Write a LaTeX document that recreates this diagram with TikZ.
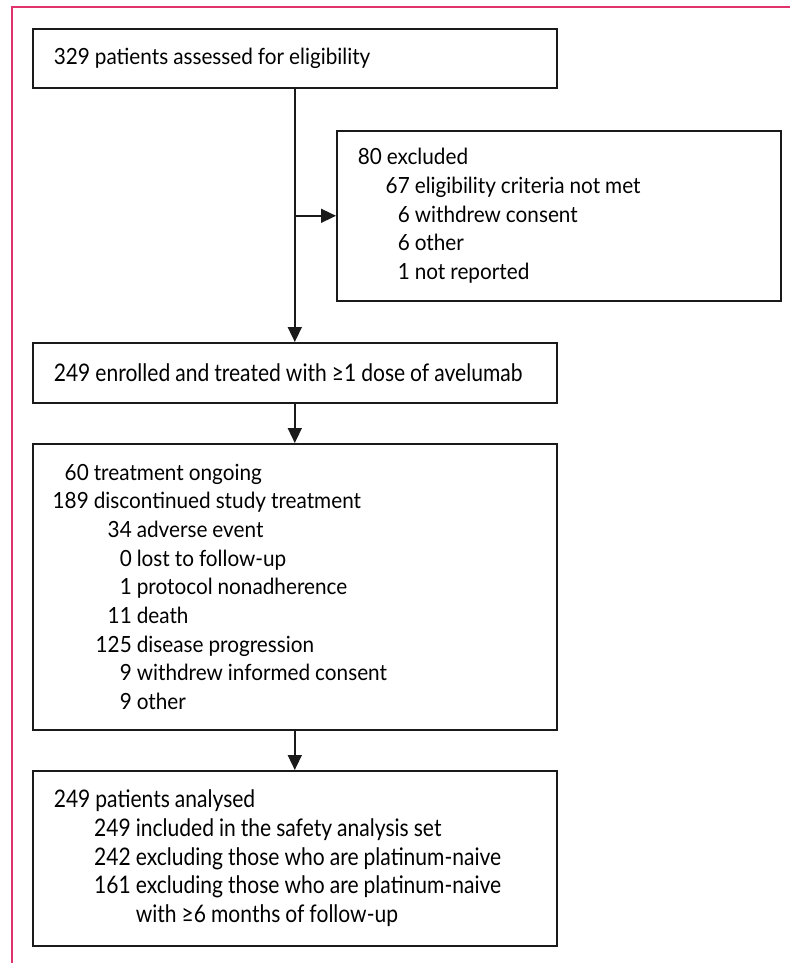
\documentclass[tikz,border=0pt]{standalone}
\usepackage{fontspec}
\setmainfont[FakeStretch=0.93]{Lato}
\newfontfamily\narrowfont[FakeStretch=0.87]{Lato}
\usetikzlibrary{arrows.meta,positioning}
\definecolor{vdarkgray}{HTML}{1a1a1a}
\definecolor{vpink}{HTML}{e0336b}
\newcommand{\itemline}[3]{\hspace*{#1pt}\llap{#2}\hspace{5pt}#3}
\newcommand{\boxfont}{\fontsize{22.3}{28.7}\selectfont\fontdimen2\font=5pt\relax}
\newcommand{\narrowboxfont}{\narrowfont\fontsize{24.2}{28.7}\selectfont\fontdimen2\font=5pt\relax}
\tikzset{
	flowbox/.style={draw=vdarkgray, line width=1.6pt, anchor=north west, align=flush left, inner xsep=21pt, inner ysep=0pt, minimum width=524pt, text width=482pt, font=\boxfont},
	narrowbox/.style={flowbox, font=\narrowboxfont},
	flowarrow/.style={color=vdarkgray, line width=1.6pt, -{Triangle[length=15pt,width=14pt]}}
}
\begin{document}
\begin{tikzpicture}[x=1pt, y=-1pt]
		\useasboundingbox (0,0) rectangle (790,963);
		\draw[color=vpink, line width=1.8pt] (12,963) -- (12,7) -- (790,7);
		\node[flowbox, minimum height=59pt] (assessed) at (32,28) {329 patients assessed for eligibility};
		\node[flowbox, minimum width=444pt, text width=402pt, minimum height=170pt] (excluded) at (336,130) {80 excluded\\
			\itemline{52}{67}{eligibility criteria not met}\\
			\itemline{52}{6}{withdrew consent}\\
			\itemline{52}{6}{other}\\
			\itemline{52}{1}{not reported}};
		\node[narrowbox, minimum height=60pt] (enrolled) at (32,342) {249 enrolled and treated with ≥1 dose of avelumab};
		\node[flowbox, minimum height=286pt] (treatment) at (32,443) {\itemline{35}{60}{treatment ongoing}\\
			\itemline{35}{189}{discontinued study treatment}\\
			\itemline{78}{34}{adverse event}\\
			\itemline{78}{0}{lost to follow-up}\\
			\itemline{78}{1}{protocol nonadherence}\\
			\itemline{78}{11}{death}\\
			\itemline{78}{125}{disease progression}\\
			\itemline{78}{9}{withdrew informed consent}\\
			\itemline{78}{9}{other}};
		\node[narrowbox, minimum height=175pt] (analysed) at (32,770) {249 patients analysed\\
			\itemline{77}{249}{included in the safety analysis set}\\
			\itemline{77}{242}{excluding those who are platinum-naive}\\
			\itemline{77}{161}{excluding those who are platinum-naive}\\
			\itemline{77}{}{with ≥6 months of follow-up}};
		\coordinate (split) at (assessed.south |- excluded.west);
		\draw[flowarrow] (assessed.south) -- (enrolled.north);
		\draw[flowarrow] (split) -- (excluded.west);
		\draw[flowarrow] (enrolled.south) -- (treatment.north);
		\draw[flowarrow] (treatment.south) -- (analysed.north);
	\end{tikzpicture}
\end{document}
